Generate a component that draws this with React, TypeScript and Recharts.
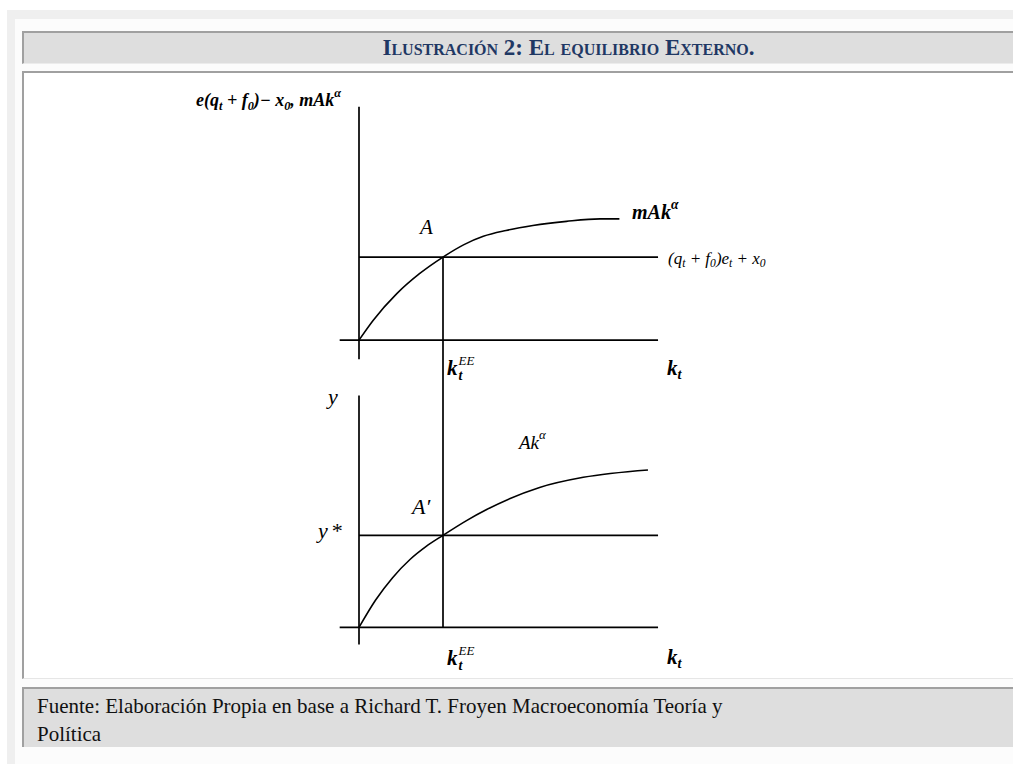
import React from "react";
import { LineChart, Line, XAxis, YAxis, ReferenceLine } from "recharts";

// capital stock k (k^EE = 1) and output levels (equilibrium = 1)
const topCurveK = [0, 0.17, 0.45, 0.72, 1, 1.25, 1.48, 1.75, 2.07, 2.47, 2.87, 3.1];
const topCurveY = [0, 0.24, 0.56, 0.8, 1, 1.15, 1.25, 1.32, 1.38, 1.43, 1.46, 1.46];
const bottomCurveK = [0, 0.2, 0.4, 0.61, 0.8, 1, 1.28, 1.52, 2.15, 2.67, 3.44];
const bottomCurveY = [0, 0.3, 0.54, 0.74, 0.88, 1, 1.16, 1.28, 1.52, 1.63, 1.71];

const kEE = 1;
const equilibriumLevel = 1;
const axisStartK = -0.23;
const axisEndK = 3.56;
const topAxisYRange = [-0.23, 2.81];
const bottomAxisYRange = [-0.185, 2.52];

const xDomain: [number, number] = [-0.5, 4.0];
const topYDomain: [number, number] = [-0.3, 3.0];
const bottomYDomain: [number, number] = [-0.3, 2.85];

const topData = topCurveK.map((k, i) => ({ k, y: topCurveY[i] }));
const bottomData = bottomCurveK.map((k, i) => ({ k, y: bottomCurveY[i] }));

const SERIF = '"Liberation Serif", "Times New Roman", serif';
const INK = "#000";

function Lbl({ x, y, size, bold, italic = true, children }: any) {
  return (
    <div
      style={{
        position: "absolute",
        left: x,
        top: y,
        transform: "translateY(-50%)",
        fontFamily: SERIF,
        fontSize: size,
        fontStyle: italic ? "italic" : "normal",
        fontWeight: bold ? "bold" : "normal",
        lineHeight: 1,
        whiteSpace: "nowrap",
        color: INK,
      }}
    >
      {children}
    </div>
  );
}

const sub = { fontSize: "0.68em", verticalAlign: "-0.3em", lineHeight: 0 } as const;
const sup = { fontSize: "0.68em", verticalAlign: "0.7em", lineHeight: 0 } as const;

function Panel({ data, yDomain, axisY, width, height, vertical }: any) {
  return (
    <LineChart width={width} height={height} data={data} margin={{ top: 0, right: 0, bottom: 0, left: 0 }}>
      <XAxis dataKey="k" type="number" domain={xDomain} hide allowDataOverflow />
      <YAxis type="number" domain={yDomain} hide allowDataOverflow />
      <ReferenceLine segment={[{ x: axisStartK, y: 0 }, { x: axisEndK, y: 0 }]} stroke={INK} strokeWidth={1.7} />
      <ReferenceLine segment={[{ x: 0, y: axisY[0] }, { x: 0, y: axisY[1] }]} stroke={INK} strokeWidth={1.7} />
      <ReferenceLine
        segment={[{ x: 0, y: equilibriumLevel }, { x: axisEndK, y: equilibriumLevel }]}
        stroke={INK}
        strokeWidth={1.7}
      />
      <ReferenceLine segment={[{ x: kEE, y: vertical[0] }, { x: kEE, y: vertical[1] }]} stroke={INK} strokeWidth={1.7} />
      <Line dataKey="y" type="monotone" stroke={INK} strokeWidth={1.6} dot={false} isAnimationActive={false} />
    </LineChart>
  );
}

// k with subscript t and superscript EE stacked to its right
function KEE({ x, y }: any) {
  return (
    <div
      style={{
        position: "absolute",
        left: x,
        top: y - 14,
        display: "flex",
        alignItems: "flex-start",
        fontFamily: SERIF,
        fontStyle: "italic",
        fontWeight: "bold",
        color: INK,
        lineHeight: 1,
      }}
    >
      <span style={{ fontSize: 21, marginTop: 4 }}>k</span>
      <span style={{ display: "flex", flexDirection: "column", marginLeft: 1 }}>
        <span style={{ fontSize: 13, fontWeight: "normal" }}>EE</span>
        <span style={{ fontSize: 14, marginTop: 2 }}>t</span>
      </span>
    </div>
  );
}

export default function App() {
  return (
    <div style={{ position: "fixed", left: 0, top: 0, width: 1013, height: 764, background: "#fff", overflow: "hidden" }}>
      {/* outer table frame */}
      <div style={{ position: "absolute", left: 7, top: 10, width: 1006, height: 754, background: "#efefef" }} />
      <div style={{ position: "absolute", left: 15, top: 19, width: 998, height: 745, background: "#fcfcfc" }} />

      {/* header cell */}
      <div
        style={{
          position: "absolute",
          left: 22,
          top: 31,
          width: 991,
          height: 33,
          boxSizing: "border-box",
          background: "#dedede",
          borderTop: "2px solid #a0a0a0",
          borderLeft: "2px solid #a0a0a0",
          borderBottom: "1px solid #ececec",
          display: "flex",
          alignItems: "center",
          justifyContent: "center",
          fontFamily: SERIF,
          fontWeight: "bold",
          fontSize: 23,
          fontVariant: "small-caps",
          color: "#1f3864",
          paddingLeft: 100,
        }}
      >
        Ilustración 2: El equilibrio Externo.
      </div>

      {/* body cell */}
      <div
        style={{
          position: "absolute",
          left: 22,
          top: 71,
          width: 991,
          height: 608,
          boxSizing: "border-box",
          background: "#fff",
          borderTop: "2px solid #a0a0a0",
          borderLeft: "2px solid #a0a0a0",
          borderBottom: "1px solid #e6e6e6",
        }}
      />

      {/* footer cell */}
      <div
        style={{
          position: "absolute",
          left: 22,
          top: 687,
          width: 991,
          height: 60,
          boxSizing: "border-box",
          background: "#dedede",
          borderTop: "2px solid #a0a0a0",
          borderLeft: "2px solid #a0a0a0",
          padding: "3px 0 0 13px",
          fontFamily: SERIF,
          fontSize: 21,
          lineHeight: "28px",
          color: "#111",
        }}
      >
        Fuente: Elaboración Propia en base a Richard T. Froyen Macroeconomía Teoría y
        <br />
        Política
      </div>

      {/* upper panel: external balance */}
      <div style={{ position: "absolute", left: 317, top: 91 }}>
        <Panel
          data={topData}
          yDomain={topYDomain}
          axisY={topAxisYRange}
          width={378}
          height={274}
          vertical={[equilibriumLevel, topYDomain[0]]}
        />
      </div>

      {/* lower panel: production function */}
      <div style={{ position: "absolute", left: 317, top: 365 }}>
        <Panel
          data={bottomData}
          yDomain={bottomYDomain}
          axisY={bottomAxisYRange}
          width={378}
          height={290}
          vertical={[bottomYDomain[1], 0]}
        />
      </div>

      {/* labels */}
      <Lbl x={196} y={100} size={18} bold>
        e(q<span style={sub}>t</span> + f<span style={sub}>0</span>)− x<span style={sub}>0</span>, mAk
        <span style={sup}>α</span>
      </Lbl>
      <Lbl x={420} y={227} size={21}>A</Lbl>
      <Lbl x={632} y={212} size={20} bold>
        mAk<span style={sup}>α</span>
      </Lbl>
      <Lbl x={668} y={258} size={17}>
        (q<span style={sub}>t</span> + f<span style={sub}>0</span>)e<span style={sub}>t</span> + x<span style={sub}>0</span>
      </Lbl>
      <KEE x={447} y={368} />
      <Lbl x={667} y={368} size={21} bold>
        k<span style={sub}>t</span>
      </Lbl>
      <Lbl x={328} y={397} size={22}>y</Lbl>
      <Lbl x={519} y={442} size={19}>
        Ak<span style={sup}>α</span>
      </Lbl>
      <Lbl x={412} y={507} size={22}>A′</Lbl>
      <Lbl x={318} y={531} size={22}>
        y<span style={{ marginLeft: 3 }}>*</span>
      </Lbl>
      <KEE x={447} y={658} />
      <Lbl x={667} y={657} size={21} bold>
        k<span style={sub}>t</span>
      </Lbl>
    </div>
  );
}
